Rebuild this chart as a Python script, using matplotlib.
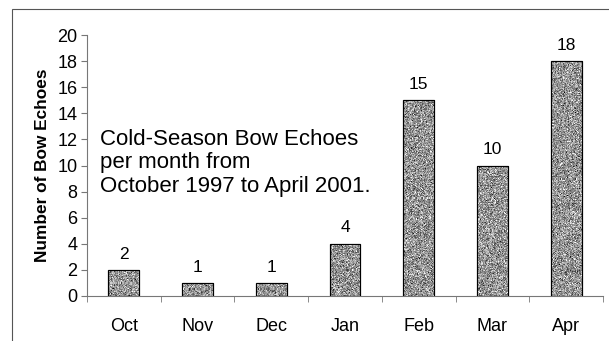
import matplotlib.pyplot as plt
import numpy as np
from matplotlib.patches import Rectangle

plt.rcParams['font.family'] = ['Liberation Sans', 'DejaVu Sans']

months = ["Oct", "Nov", "Dec", "Jan", "Feb", "Mar", "Apr"]
counts = [2, 1, 1, 4, 15, 10, 18]

fig = plt.figure(figsize=(6.09, 3.41), dpi=100)
# outer frame (left and top edges show, the rest runs off the page)
fig.patches.append(Rectangle((12 / 609, -0.1), 1.2, 1 - 9 / 341 + 0.1,
                             transform=fig.transFigure, fill=False,
                             edgecolor='#555555', lw=0.8))

ax = fig.add_axes([87 / 609, 1 - 296 / 341, (603 - 87) / 609, (296 - 35) / 341])

x = np.arange(len(months))
bars = ax.bar(x, counts, width=0.42, color='#8c8c8c', edgecolor='black', lw=0.8, zorder=2)

# speckled fill inside each bar, roughly one texel per screen pixel
rng = np.random.default_rng(3)
for b in bars:
    rows = max(int(b.get_height() * 13), 4)
    tex = rng.normal(0.58, 0.16, (rows, 31)).clip(0, 1)
    im = ax.imshow(tex, cmap='gray', vmin=0, vmax=1, aspect='auto',
                   extent=(b.get_x(), b.get_x() + b.get_width(), 0, b.get_height()),
                   interpolation='nearest', zorder=2.5)
    im.set_clip_path(b)
    edge = Rectangle((b.get_x(), 0), b.get_width(), b.get_height(), fill=False,
                     edgecolor='black', lw=0.8, zorder=3)
    ax.add_patch(edge)

for xi, c in zip(x, counts):
    ax.annotate(str(c), (xi, c), xytext=(0, 6), textcoords='offset points',
                ha='center', va='bottom', fontsize=12.5)

ax.set_xlim(-0.5, 6.5)
ax.set_ylim(0, 20)
ax.set_yticks(range(0, 21, 2))
ax.set_xticks(x)
ax.set_xticklabels(months)
ax.set_xticks(np.arange(-0.5, 7, 1), minor=True)
ax.tick_params(axis='x', which='major', length=0, pad=16, labelsize=13)
ax.tick_params(axis='x', which='minor', length=4, color='#777777', direction='out')
ax.tick_params(axis='y', length=4, color='#777777', labelsize=13, pad=3)

for s in ['top', 'right']:
    ax.spines[s].set_visible(False)
for s in ['left', 'bottom']:
    ax.spines[s].set_color('#777777')
    ax.spines[s].set_linewidth(0.8)

ax.set_ylabel("Number of Bow Echoes", fontsize=12.4, fontweight='bold', labelpad=5)

ax.text(0.025, 0.51, "Cold-Season Bow Echoes\nper month from\nOctober 1997 to April 2001.",
        transform=ax.transAxes, fontsize=16, va='center', ha='left', linespacing=1.15)

fig.savefig("out.png", dpi=100)
